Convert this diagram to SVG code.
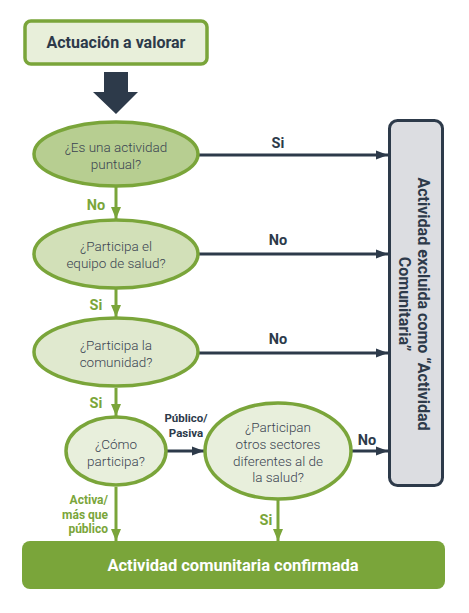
<svg xmlns="http://www.w3.org/2000/svg" width="469" height="613" viewBox="0 0 469 613">
<defs>
<style>
.q{font-family:Roboto,"Open Sans",sans-serif;font-weight:300;font-size:13.5px;fill:#3b4452;text-anchor:middle}
.b{font-family:Roboto,"Open Sans",sans-serif;font-weight:700;text-anchor:middle}
.gl{fill:#7aa53a}
.dl{fill:#2d3a4a}
.ell{stroke:#7aa53a;stroke-width:3.5}
.gline{stroke:#7aa53a;stroke-width:3;fill:none}
.dline{stroke:#2d3a4a;stroke-width:3;fill:none}
</style>
<marker id="ga" markerUnits="userSpaceOnUse" markerWidth="12" markerHeight="12" viewBox="0 0 12 12" refX="12" refY="6" orient="auto">
<path d="M0,1 L12,6 L0,11 Z" fill="#7aa53a"/>
</marker>
<marker id="da" markerUnits="userSpaceOnUse" markerWidth="12" markerHeight="12" viewBox="0 0 12 12" refX="12" refY="6" orient="auto">
<path d="M0,1.5 L12,6 L0,10.5 Z" fill="#2d3a4a"/>
</marker>
</defs>
<rect width="469" height="613" fill="#ffffff"/>

<g id="connectors">
<path d="M104,72 H128 V92 H138 L116,114 L93,92 H104 Z" fill="#2d3a4a"/>
<line class="dline" x1="199" y1="155" x2="388" y2="155" marker-end="url(#da)"/>
<line class="dline" x1="199" y1="254" x2="388" y2="254" marker-end="url(#da)"/>
<line class="dline" x1="199" y1="353" x2="388" y2="353" marker-end="url(#da)"/>
<line class="dline" x1="352" y1="451" x2="388" y2="451" marker-end="url(#da)"/>
<line class="dline" x1="167" y1="451" x2="204" y2="451" marker-end="url(#da)"/>
<line class="gline" x1="116" y1="187" x2="116" y2="219" marker-end="url(#ga)"/>
<line class="gline" x1="116" y1="289" x2="116" y2="317" marker-end="url(#ga)"/>
<line class="gline" x1="116" y1="388" x2="116" y2="416" marker-end="url(#ga)"/>
<line class="gline" x1="116" y1="487" x2="116" y2="541" marker-end="url(#ga)"/>
<line class="gline" x1="278" y1="500" x2="278" y2="541" marker-end="url(#ga)"/>
<text class="b dl" x="278" y="148" font-size="14.5">Si</text>
<text class="b dl" x="278" y="245" font-size="14.5">No</text>
<text class="b dl" x="278" y="344" font-size="14.5">No</text>
<text class="b dl" x="367" y="445" font-size="14.5">No</text>
<text class="b dl" x="186" y="422" font-size="11.5">Público/</text>
<text class="b dl" x="186" y="437" font-size="11.5">Pasiva</text>
<text class="b gl" x="96" y="210" font-size="14.5">No</text>
<text class="b gl" x="96" y="310" font-size="14.5">Si</text>
<text class="b gl" x="96" y="408" font-size="14.5">Si</text>
<text class="b gl" x="266" y="525" font-size="14.5">Si</text>
<text class="b gl" x="108" y="504" font-size="12" style="text-anchor:end">Activa/</text>
<text class="b gl" x="108" y="519" font-size="12" style="text-anchor:end">más que</text>
<text class="b gl" x="108" y="533" font-size="12" style="text-anchor:end">público</text>
</g>

<g id="start">
<rect x="25" y="21" width="182" height="43" rx="6" fill="#e8efda" stroke="#7aa53a" stroke-width="3.5"/>
<text class="b dl" x="116" y="48" font-size="16">Actuación a valorar</text>
</g>

<g id="q1">
<ellipse class="ell" cx="116" cy="154" rx="82" ry="32" fill="#b7ce91"/>
<text class="q" x="116" y="152">¿Es una actividad</text>
<text class="q" x="116" y="169">puntual?</text>
</g>

<g id="q2">
<ellipse class="ell" cx="116" cy="254" rx="82" ry="34" fill="#d2e0b8"/>
<text class="q" x="116" y="251">¿Participa el</text>
<text class="q" x="116" y="268">equipo de salud?</text>
</g>

<g id="q3">
<ellipse class="ell" cx="116" cy="352" rx="82" ry="34" fill="#e0e9cf"/>
<text class="q" x="116" y="350">¿Participa la</text>
<text class="q" x="116" y="367">comunidad?</text>
</g>

<g id="q4">
<ellipse class="ell" cx="116" cy="451" rx="50" ry="34" fill="#e8efdc"/>
<text class="q" x="116" y="449">¿Cómo</text>
<text class="q" x="116" y="466">participa?</text>
</g>

<g id="q5">
<ellipse class="ell" cx="278" cy="451" rx="73" ry="48" fill="#e8efdc"/>
<text class="q" x="278" y="432">¿Participan</text>
<text class="q" x="278" y="449">otros sectores</text>
<text class="q" x="278" y="466">diferentes al de</text>
<text class="q" x="278" y="482">la salud?</text>
</g>

<g id="excluded">
<rect x="389.5" y="120.5" width="53" height="365" rx="8" fill="#dcdde1" stroke="#2d3a4a" stroke-width="3"/>
<text class="b dl" font-size="16" transform="translate(418,304) rotate(90)" x="0" y="0">Actividad excluida como “Actividad</text>
<text class="b dl" font-size="16" transform="translate(399,304) rotate(90)" x="0" y="0">Comunitaria”</text>
</g>

<g id="confirmed">
<rect x="22" y="541" width="423" height="48" rx="8" fill="#7aa53a"/>
<text class="b" x="233" y="571" font-size="16.5" fill="#ffffff">Actividad comunitaria confirmada</text>
</g>
</svg>
